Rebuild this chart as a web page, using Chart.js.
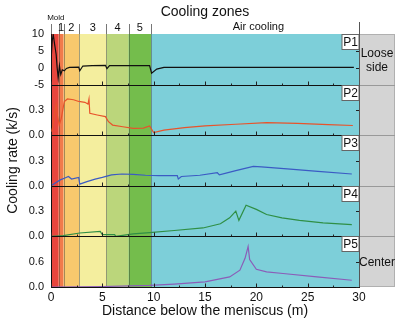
<!DOCTYPE html>
<html>
<head>
<meta charset="utf-8">
<script src="https://cdn.jsdelivr.net/npm/chart.js@4/dist/chart.umd.min.js"></script>
<style>
  html, body { margin: 0; padding: 0; background: #fff; }
  #wrap { width: 402px; height: 324px; }
</style>
</head>
<body>
<div id="wrap"><canvas id="coolingRate"></canvas></div>
<script>
// cooling zones along the strand (m)
const zoneNames = ['Mold', '1', '2', '3', '4', '5', 'Air cooling'];
const zoneStart = [0, 0.75, 1.23, 2.75, 5.4, 7.55, 9.75];
const zoneEnd = [0.75, 1.23, 2.75, 5.4, 7.55, 9.75, 30];
const zoneColors = ['#e8463d', '#f17b4b', '#f8c96d', '#f4ee9e', '#bbd67b', '#74bd4c', '#7dcfd9'];

const panelNames = ['P1', 'P2', 'P3', 'P4', 'P5'];
const xTicks = [0, 5, 10, 15, 20, 25, 30];

// P1 - loose side surface
const p1X = [0, 0.12, 0.22, 0.35, 0.5, 0.6, 0.7, 0.82, 0.95, 1.1, 1.3, 1.5, 1.8, 2.7, 2.8, 3.1, 4.0, 5.3, 5.45, 5.7, 7.5, 9.6, 9.8, 10.3, 11, 15, 20, 29.5];
const p1Y = [2, 8, 9.8, 7, 4, 0, -3, 0.6, -2, -0.6, -0.9, -0.2, 0.1, 0.2, -0.9, 0.5, 0.6, 0.7, -0.3, 0.6, 0.6, 0.6, -1.6, -0.4, 0.1, 0.1, 0.1, 0.1];
// P2
const p2X = [0, 0.2, 0.4, 0.5, 0.6, 0.8, 1.0, 1.3, 1.6, 2.2, 2.7, 3.3, 3.6, 3.7, 3.78, 4.5, 5.3, 5.6, 6.0, 7.0, 8.0, 9.0, 9.6, 10.0, 11, 13, 15, 18, 21, 24, 27, 29.4];
const p2Y = [0, 0.12, 0.3, 0.36, 0.25, 0.12, 0.2, 0.4, 0.43, 0.42, 0.4, 0.39, 0.37, 0.43, 0.26, 0.24, 0.22, 0.16, 0.12, 0.1, 0.08, 0.085, 0.11, 0.03, 0.06, 0.09, 0.11, 0.13, 0.15, 0.14, 0.125, 0.115];
// P3
const p3X = [0, 0.5, 0.9, 1.3, 1.7, 2.0, 2.7, 2.8, 3.5, 4.3, 5.0, 5.9, 6.9, 8.0, 9.2, 10.5, 12.3, 12.4, 12.7, 14.5, 16.2, 16.4, 18, 19.7, 20.5, 23, 26, 29.3];
const p3Y = [0, 0.04, 0.07, 0.09, 0.11, 0.08, 0.1, 0.02, 0.05, 0.08, 0.1, 0.13, 0.14, 0.135, 0.125, 0.12, 0.12, 0.08, 0.11, 0.125, 0.155, 0.13, 0.18, 0.23, 0.225, 0.2, 0.17, 0.14];
// P4
const p4X = [0, 1.2, 2.8, 4.8, 5.0, 6.2, 6.3, 8.0, 9.6, 12, 14.8, 16.5, 17.4, 18.0, 18.3, 19.0, 20, 21, 22.5, 24.2, 26.5, 29.3];
const p4Y = [0, 0.01, 0.04, 0.06, 0.02, 0.02, 0, 0.03, 0.045, 0.07, 0.1, 0.15, 0.22, 0.3, 0.19, 0.37, 0.32, 0.26, 0.22, 0.19, 0.16, 0.14];
// P5 - center
const p5X = [0, 5, 9.6, 12, 15, 17.4, 18.4, 18.9, 19.2, 19.35, 20.0, 21, 22.6, 25.9, 29.3];
const p5Y = [0, 0.01, 0.04, 0.07, 0.12, 0.24, 0.4, 0.68, 0.96, 0.65, 0.42, 0.36, 0.32, 0.24, 0.16];

const pts = (xs, ys) => xs.map((v, i) => ({x: v, y: ys[i]}));

Chart.defaults.font.family = '"Liberation Sans", Arial, sans-serif';
Chart.defaults.color = '#111';

const yAxis = (min, max, step, fmt) => ({
  type: 'linear',
  position: 'left',
  stack: 'rate',
  stackWeight: 1,
  min: min,
  max: max,
  grid: {display: false, drawTicks: false},
  border: {color: '#111'},
  ticks: {stepSize: step, includeBounds: false, autoSkip: false, padding: 7, font: {size: 11}, callback: fmt},
  afterFit: s => { s.width = 51; }
});
const oneDec = lim => v => (v >= lim ? '' : v.toFixed(1));

const zonePlugin = {
  id: 'zones',
  beforeDraw(chart) {
    const {ctx, chartArea: a, scales: {x}} = chart;
    ctx.save();
    zoneStart.forEach((s, i) => {
      const l = x.getPixelForValue(s), r = x.getPixelForValue(zoneEnd[i]);
      ctx.fillStyle = zoneColors[i];
      ctx.fillRect(l, a.top, r - l, a.bottom - a.top);
    });
    ctx.strokeStyle = 'rgba(60,60,60,0.45)';
    ctx.lineWidth = 1;
    zoneStart.slice(1).forEach(s => {
      const px = Math.round(x.getPixelForValue(s)) + 0.5;
      ctx.beginPath(); ctx.moveTo(px, a.top); ctx.lineTo(px, a.bottom); ctx.stroke();
    });
    // side panel
    ctx.fillStyle = '#d4d4d4';
    ctx.fillRect(a.right, a.top, 36, a.bottom - a.top);
    ctx.strokeStyle = '#b0b0b0';
    ctx.strokeRect(a.right + 0.5, a.top + 0.5, 35, a.bottom - a.top - 1);
    ctx.restore();
  },
  afterDraw(chart) {
    const {ctx, chartArea: a, scales} = chart;
    const x = scales.x;
    ctx.save();
    ctx.lineWidth = 1;
    // panel separators and inner ticks
    panelNames.forEach((name, i) => {
      const s = scales['p' + (i + 1)];
      const yb = Math.round(s.bottom) + 0.5;
      if (i < 4) {
        ctx.strokeStyle = '#111';
        ctx.beginPath(); ctx.moveTo(a.left, yb); ctx.lineTo(a.right, yb); ctx.stroke();
        ctx.strokeStyle = '#999';
        ctx.beginPath(); ctx.moveTo(a.right, yb); ctx.lineTo(a.right + 36, yb); ctx.stroke();
      }
      ctx.strokeStyle = '#222';
      for (let v = 0; v <= 30; v += 2.5) {
        const px = Math.round(x.getPixelForValue(v)) + 0.5;
        ctx.beginPath(); ctx.moveTo(px, yb); ctx.lineTo(px, yb - (v % 5 === 0 ? 4 : 2)); ctx.stroke();
      }
      s.ticks.forEach(t => {
        const py = Math.round(s.getPixelForValue(t.value)) + 0.5;
        ctx.beginPath(); ctx.moveTo(a.right, py); ctx.lineTo(a.right - 3, py); ctx.stroke();
      });
      // panel label box
      const top = Math.round(s.top) + 0.5;
      ctx.fillStyle = '#fff';
      ctx.fillRect(a.right - 17, top, 17, 15);
      ctx.strokeStyle = '#666';
      ctx.strokeRect(a.right - 17, top, 17, 15);
      ctx.fillStyle = '#111';
      ctx.font = '12px "Liberation Sans", Arial, sans-serif';
      ctx.textAlign = 'center';
      ctx.textBaseline = 'middle';
      ctx.fillText(name, a.right - 8.5, top + 8);
    });
    // right edge of plot
    ctx.strokeStyle = '#555';
    const rx = Math.round(a.right) + 0.5;
    ctx.beginPath(); ctx.moveTo(rx, a.top - 12); ctx.lineTo(rx, a.bottom); ctx.stroke();
    // zone labels above the plot
    ctx.strokeStyle = '#777';
    zoneStart.forEach(s => {
      const px = Math.round(x.getPixelForValue(s)) + 0.5;
      ctx.beginPath(); ctx.moveTo(px, a.top - 10); ctx.lineTo(px, a.top); ctx.stroke();
    });
    ctx.fillStyle = '#111';
    ctx.textAlign = 'center';
    ctx.textBaseline = 'middle';
    zoneNames.forEach((n, i) => {
      const mid = (x.getPixelForValue(zoneStart[i]) + x.getPixelForValue(zoneEnd[i])) / 2;
      if (i === 0) {
        ctx.font = '8px "Liberation Sans", Arial, sans-serif';
        ctx.fillText(n, mid + 1, a.top - 16);
      } else if (i === 6) {
        ctx.font = '11px "Liberation Sans", Arial, sans-serif';
        ctx.fillText(n, x.getPixelForValue(20.2), a.top - 7);
      } else {
        ctx.font = '11px "Liberation Sans", Arial, sans-serif';
        ctx.fillText(n, mid, a.top - 6);
      }
    });
    ctx.font = '14px "Liberation Sans", Arial, sans-serif';
    ctx.fillText('Cooling zones', (a.left + a.right) / 2, 12);
    // axis title on the left
    ctx.save();
    ctx.translate(13, (a.top + a.bottom) / 2);
    ctx.rotate(-Math.PI / 2);
    ctx.font = '14px "Liberation Sans", Arial, sans-serif';
    ctx.fillText('Cooling rate (k/s)', 0, 0);
    ctx.restore();
    // side panel labels
    ctx.font = '12px "Liberation Sans", Arial, sans-serif';
    const cx = a.right + 18;
    const t1 = scales.p1, t5 = scales.p5;
    ctx.fillText('Loose', cx, t1.top + 20);
    ctx.fillText('side', cx, t1.top + 34);
    ctx.fillText('Center', cx, (t5.top + t5.bottom) / 2 + 1);
    ctx.restore();
  }
};

const ctx = document.getElementById('coolingRate').getContext('2d');

const coolingChart = new Chart(ctx, {
  type: 'line',
  data: {
    datasets: [
      {label: 'P1', data: pts(p1X, p1Y), yAxisID: 'p1', borderColor: '#111'},
      {label: 'P2', data: pts(p2X, p2Y), yAxisID: 'p2', borderColor: '#e8532b'},
      {label: 'P3', data: pts(p3X, p3Y), yAxisID: 'p3', borderColor: '#3b5bc4'},
      {label: 'P4', data: pts(p4X, p4Y), yAxisID: 'p4', borderColor: '#2f8f45'},
      {label: 'P5', data: pts(p5X, p5Y), yAxisID: 'p5', borderColor: '#8b5db8'}
    ]
  },
  options: {
    responsive: true,
    maintainAspectRatio: false,
    animation: false,
    parsing: false,
    elements: {
      line: {borderWidth: 1.2, tension: 0},
      point: {radius: 0}
    },
    layout: {padding: {top: 34, right: 43, left: 0, bottom: 0}},
    plugins: {
      legend: {display: false},
      title: {display: false},
      tooltip: {enabled: false}
    },
    scales: {
      x: {
        type: 'linear',
        min: 0,
        max: 30,
        grid: {display: false, drawTicks: false},
        border: {color: '#111'},
        afterBuildTicks: s => { s.ticks = xTicks.map(v => ({value: v})); },
        ticks: {padding: 3, autoSkip: false, font: {size: 12}},
        title: {display: true, text: 'Distance below the meniscus (m)', font: {size: 14}, padding: {top: 3, bottom: 4}},
        afterFit: s => { s.height = 37; }
      },
      p5: yAxis(0, 1.2, 0.6, oneDec(1.1)),
      p4: yAxis(0, 0.6, 0.3, oneDec(0.59)),
      p3: yAxis(0, 0.6, 0.3, oneDec(0.59)),
      p2: yAxis(0, 0.6, 0.3, oneDec(0.59)),
      p1: yAxis(-5, 10, 5, v => v)
    }
  },
  plugins: [zonePlugin]
});
</script>
</body>
</html>
